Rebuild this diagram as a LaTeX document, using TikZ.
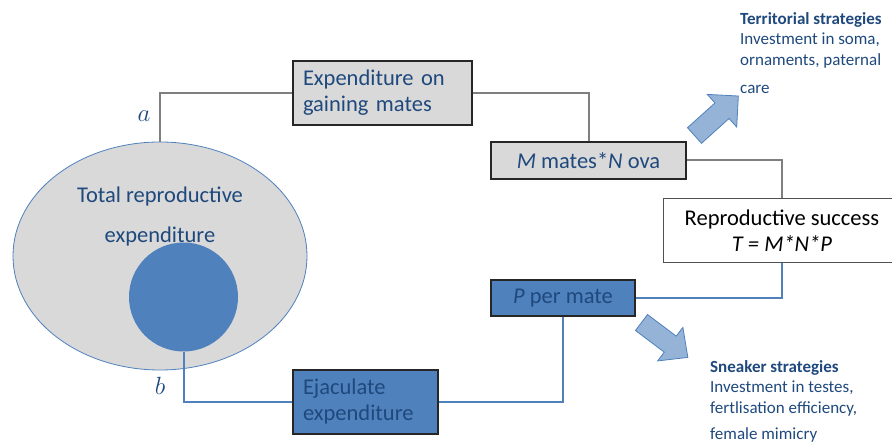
\documentclass[tikz,border=0pt]{standalone}
\usepackage{fontspec}
\setmainfont{Carlito}
\usetikzlibrary{shapes.geometric}
\definecolor{lgray}{HTML}{D9D9D9}
\definecolor{mblue}{HTML}{4F81BD}
\definecolor{navy}{HTML}{1F497D}
\definecolor{arrfill}{HTML}{95B3D7}
\definecolor{linegray}{HTML}{7F7F7F}
\definecolor{boxedge}{HTML}{262626}
\begin{document}
\begin{tikzpicture}[x=1pt,y=-1pt,
  graybox/.style={draw=boxedge, line width=1.3pt, fill=lgray, text=navy, inner sep=0pt},
  bluebox/.style={draw=boxedge, line width=1.3pt, fill=mblue, text=navy, inner sep=0pt},
  whitebox/.style={draw=boxedge!80, line width=1pt, fill=white, text=black, inner sep=0pt},
  big/.style={font=\fontsize{22.5}{26}\selectfont},
  side/.style={font=\fontsize{17}{20.5}\selectfont, text=navy, align=left, anchor=north west, inner sep=0pt},
  gline/.style={draw=linegray, line width=2pt},
  bline/.style={draw=mblue, line width=2pt},
  blockarrow/.style={fill=arrfill, draw=mblue, line width=0.8pt, line join=miter}
]
\useasboundingbox (0,0) rectangle (892,446);

% ellipse and circle
\node[ellipse, draw=mblue, line width=0.8pt, fill=lgray, minimum width=294pt, minimum height=228pt, inner sep=0pt] (tot) at (160,256) {};
\node[align=center, text=navy, font=\fontsize{22.5}{40}\selectfont, inner sep=0pt] (totlabel) at (160,217) {Total reproductive\\expenditure};
\node[circle, fill=mblue, minimum size=109pt, inner sep=0pt] (ejc) at (183.5,297) {};

% boxes
\node[graybox, big, minimum width=179pt, minimum height=64pt, text width=159pt, align=left] (exp) at (382.5,93) {Expenditure on\\gaining mates};
\node[graybox, big, minimum width=195pt, minimum height=37pt] (mates) at (588.5,160.5) {\textit{M} mates*\textit{N} ova};
\node[whitebox, big, minimum width=238pt, minimum height=64pt, align=center] (rs) at (782,231) {Reproductive success\\\textit{T = M*N*P}};
\node[bluebox, big, minimum width=144pt, minimum height=36pt] (pm) at (563,298) {\textit{P} per mate};
\node[bluebox, big, minimum width=145pt, minimum height=64pt, text width=125pt, align=left] (ej) at (365.5,402) {Ejaculate\\expenditure};

% connectors
\draw[gline] (tot.north) |- (exp.west);
\draw[gline] (exp.east) -| (mates.north);
\draw[gline] (mates.east) -| (rs.north);
\draw[bline] (rs.south) |- (pm.east);
\draw[bline] (pm.south) |- (ej.east);
\draw[bline] (ejc.south) |- (ej.west);

% labels a, b
\node[text=navy, font=\fontsize{24}{26}\selectfont] (la) at (144,116) {$a$};
\node[text=navy, font=\fontsize{24}{26}\selectfont] (lb) at (160,386) {$b$};

% block arrows
\begin{scope}[shift={(694.5,135.5)}, rotate=42]
  \filldraw[blockarrow] (0,-10.5) -- (37,-10.5) -- (37,-22) -- (59,0) -- (37,22) -- (37,10.5) -- (0,10.5) -- cycle;
\end{scope}
\begin{scope}[shift={(641.5,322.5)}, rotate=-37]
  \filldraw[blockarrow] (0,-10) -- (36,-10) -- (36,-21) -- (58,0) -- (36,21) -- (36,10) -- (0,10) -- cycle;
\end{scope}

% side texts
\node[side] (terr) at (740,12) {\textbf{Territorial strategies}\\Investment in soma,\\ornaments, paternal\\[8pt]care};
\node[side] (sneak) at (710,360) {\textbf{Sneaker strategies}\\Investment in testes,\\fertlisation efficiency,\\[6pt]female mimicry};
\end{tikzpicture}
\end{document}
